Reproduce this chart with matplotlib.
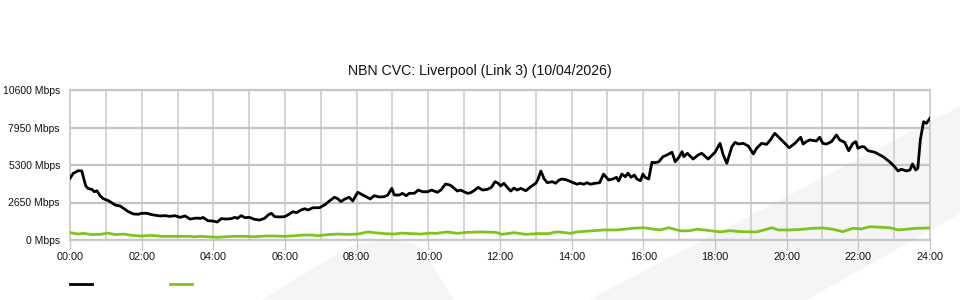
import matplotlib
matplotlib.use("Agg")
import matplotlib.pyplot as plt
from matplotlib.lines import Line2D
from matplotlib.patches import Polygon
from matplotlib.ticker import MultipleLocator

plt.rcParams['font.family'] = ['Liberation Sans', 'DejaVu Sans']

title = "NBN CVC: Liverpool (Link 3) (10/04/2026)"

# download (black) - hours since midnight, Mbps
dl_hours = [0.00, 0.09, 0.23, 0.33, 0.37, 0.44, 0.51, 0.61, 0.68, 0.75, 0.84, 0.93,
            1.07, 1.16, 1.26, 1.40, 1.49, 1.63, 1.77, 1.91, 2.00, 2.14, 2.28, 2.51,
            2.65, 2.79, 2.93, 3.07, 3.21, 3.35, 3.43, 3.52, 3.66, 3.71, 3.85, 3.99,
            4.11, 4.22, 4.36, 4.50, 4.60, 4.67, 4.78, 4.88, 5.01, 5.15, 5.29, 5.43,
            5.53, 5.62, 5.71, 5.85, 5.99, 6.08, 6.22, 6.32, 6.45, 6.55, 6.64, 6.78,
            6.96, 7.10, 7.24, 7.38, 7.47, 7.56, 7.66, 7.79, 7.89, 8.03, 8.17, 8.26,
            8.38, 8.49, 8.63, 8.77, 8.87, 8.98, 9.05, 9.19, 9.28, 9.38, 9.47, 9.61,
            9.72, 9.84, 9.98, 10.09, 10.25, 10.35, 10.48, 10.62, 10.72, 10.81, 10.90,
            11.00, 11.09, 11.18, 11.27, 11.39, 11.51, 11.65, 11.76, 11.86, 11.95,
            12.02, 12.11, 12.20, 12.30, 12.39, 12.48, 12.58, 12.72, 12.86, 13.00,
            13.06, 13.14, 13.23, 13.32, 13.46, 13.55, 13.65, 13.73, 13.87, 14.01,
            14.15, 14.24, 14.34, 14.43, 14.52, 14.66, 14.78, 14.89, 15.03, 15.15,
            15.25, 15.31, 15.40, 15.50, 15.57, 15.66, 15.75, 15.82, 15.92, 15.99,
            16.05, 16.15, 16.24, 16.33, 16.43, 16.55, 16.66, 16.80, 16.89, 16.99,
            17.08, 17.13, 17.23, 17.39, 17.53, 17.63, 17.81, 18.00, 18.14, 18.23,
            18.33, 18.47, 18.56, 18.65, 18.79, 18.93, 19.07, 19.16, 19.30, 19.44,
            19.53, 19.67, 19.81, 19.95, 20.07, 20.23, 20.39, 20.46, 20.55, 20.64,
            20.83, 20.92, 21.01, 21.11, 21.25, 21.39, 21.48, 21.62, 21.73, 21.85,
            21.93, 21.99, 22.08, 22.16, 22.27, 22.46, 22.69, 22.89, 23.01, 23.11,
            23.20, 23.34, 23.44, 23.51, 23.60, 23.66, 23.73, 23.82, 23.90, 24.00]
dl_mbps = [4360, 4710, 4900, 4880, 4470, 3820, 3630, 3580, 3410, 3480, 3130, 2920,
           2780, 2640, 2470, 2400, 2240, 2000, 1840, 1820, 1890, 1890, 1790, 1700,
           1720, 1670, 1720, 1600, 1700, 1480, 1510, 1550, 1530, 1600, 1360, 1340,
           1270, 1510, 1480, 1510, 1600, 1530, 1720, 1580, 1600, 1460, 1410, 1530,
           1770, 1890, 1650, 1630, 1650, 1770, 2000, 1930, 2120, 2210, 2120, 2280,
           2280, 2470, 2760, 3020, 2920, 2710, 2880, 3020, 2760, 3370, 3180, 3060,
           2900, 3130, 3040, 3060, 3180, 3650, 3180, 3180, 3300, 3130, 3300, 3300,
           3530, 3410, 3410, 3530, 3370, 3530, 3960, 3870, 3650, 3460, 3530,
           3410, 3300, 3340, 3480, 3720, 3530, 3580, 3720, 4120, 4010,
           3820, 4010, 3720, 3460, 3670, 3530, 3650, 3480, 3770, 4010,
           4290, 4880, 4330, 4050, 4120, 4010, 4240, 4310, 4240, 4080,
           3940, 4010, 3940, 4050, 3940, 4010, 4050, 4660, 4240, 4310,
           4430, 4170, 4660, 4470, 4730, 4430, 4590, 4310, 4190, 4660,
           4430, 4310, 5490, 5460, 5530, 5890, 6010, 6200, 5530, 5840,
           6240, 5890, 6130, 5720, 6010, 6130, 5720, 6200, 6830, 6010,
           5420, 6590, 6900, 6780, 6830, 6640, 6080, 6480, 6830, 6760,
           7020, 7540, 7190, 6830, 6520, 6830, 7260, 6780, 6950, 7070,
           7000, 7260, 6830, 6780, 6950, 7420, 7070, 6900, 6310, 6830,
           6950, 6480, 6590, 6590, 6310, 6200, 5890, 5490, 5180, 4880,
           5000, 4880, 4950, 5370, 4950, 5070, 7070, 8360, 8250, 8600]

# upload (green)
ul_hours = [0.00, 0.23, 0.37, 0.61, 0.84, 1.05, 1.26, 1.49, 1.72, 2.00, 2.28, 2.56,
            2.84, 3.07, 3.35, 3.48, 3.66, 3.85, 4.13, 4.32, 4.60, 4.88, 5.15, 5.43,
            5.71, 5.99, 6.27, 6.50, 6.78, 6.91, 7.19, 7.47, 7.75, 8.03, 8.31, 8.49,
            8.77, 9.05, 9.24, 9.52, 9.80, 10.07, 10.21, 10.53, 10.81, 11.09, 11.46,
            11.88, 12.06, 12.39, 12.72, 13.04, 13.36, 13.51, 13.65, 13.96, 14.15,
            14.52, 14.89, 15.27, 15.54, 15.73, 16.01, 16.29, 16.47, 16.71, 16.94,
            17.08, 17.30, 17.49, 17.77, 18.14, 18.42, 18.70, 19.16, 19.44, 19.58,
            19.77, 20.09, 20.46, 20.73, 21.01, 21.29, 21.57, 21.85, 22.08, 22.32,
            22.60, 22.88, 23.11, 23.34, 23.62, 24.00]
ul_mbps = [520, 420, 470, 380, 400, 490, 380, 420, 330, 280, 330, 260,
           260, 260, 260, 230, 260, 230, 190, 230, 260, 260, 230, 280,
           280, 260, 300, 350, 350, 300, 380, 420, 400, 420, 570, 520,
           450, 420, 490, 450, 420, 490, 470, 570, 470, 540, 570,
           540, 400, 520, 400, 450, 450, 540, 570, 470, 570,
           640, 710, 710, 780, 830, 870, 760, 710, 870, 710,
           640, 660, 760, 690, 570, 660, 590, 570, 760, 870,
           710, 710, 760, 830, 850, 760, 590, 830, 780, 940,
           900, 870, 710, 760, 830, 850]

y_ticks = [0, 2650, 5300, 7950, 10600]
x_ticks = list(range(0, 25, 2))
x_labels = ["%02d:00" % h for h in x_ticks]

W, H = 960, 300
fig = plt.figure(figsize=(W / 100, H / 100), dpi=100)

# faint background watermark shapes (behind the chart)
wm = '#f4f5f7'
fig.patches.append(Polygon([(263 / W, 0), (350 / W, 1 - 247 / H), (372 / W, 1 - 242 / H),
                            (400 / W, 1 - 241 / H), (420 / W, 1 - 247 / H), (453 / W, 0)],
                           closed=True, transform=fig.transFigure, color=wm, zorder=0))
fig.patches.append(Polygon([(590 / W, 0), (960 / W, 1 - 107 / H), (960 / W, 1 - 213 / H),
                            (805 / W, 0)],
                           closed=True, transform=fig.transFigure, color=wm, zorder=0))

ax = fig.add_axes([70 / W, 60 / H, 860 / W, 150 / H])
ax.set_zorder(2)
ax.patch.set_alpha(0)

ax.plot(ul_hours, ul_mbps, color='#7fc31f', lw=2.0, zorder=3)
ax.plot(dl_hours, dl_mbps, color='#000000', lw=2.0, zorder=4)

ax.set_xlim(0, 24)
ax.set_ylim(0, 10600)

ax.set_yticks(y_ticks)
ax.set_yticklabels(["%d Mbps" % v for v in y_ticks])
ax.set_xticks(x_ticks)
ax.set_xticklabels(x_labels)
ax.xaxis.set_minor_locator(MultipleLocator(1))

ax.tick_params(axis='y', length=0, pad=7.2, labelsize=7.5, labelcolor='#111111')
ax.tick_params(axis='x', which='major', length=7.5, width=1, color='#c8c8c8',
               pad=1, labelsize=7.8, labelcolor='#111111')
ax.tick_params(axis='x', which='minor', length=0)

ax.grid(axis='y', color='#c4c4c4', lw=1.6)
ax.grid(axis='x', which='both', color='#cacaca', lw=1.1)
ax.set_axisbelow(True)
for s in ax.spines.values():
    s.set_color('#c8c8c8')
    s.set_linewidth(1.1)
ax.spines['bottom'].set_linewidth(1.6)
ax.spines['top'].set_linewidth(1.6)

fig.text(0.5, 1 - 71 / H, title, ha='center', va='center', fontsize=10.2, color='#111111')

handles = [Line2D([], [], color='#000000', lw=2.0), Line2D([], [], color='#7fc31f', lw=2.0)]
fig.legend(handles, ['', ''], loc='center left', bbox_to_anchor=(70 / W, 1 - 285 / H),
           ncol=2, frameon=False, fontsize=7.5, handlelength=2.1, handletextpad=0.8,
           columnspacing=6.7, borderpad=0, borderaxespad=0)

fig.savefig("out.png", dpi=100)
